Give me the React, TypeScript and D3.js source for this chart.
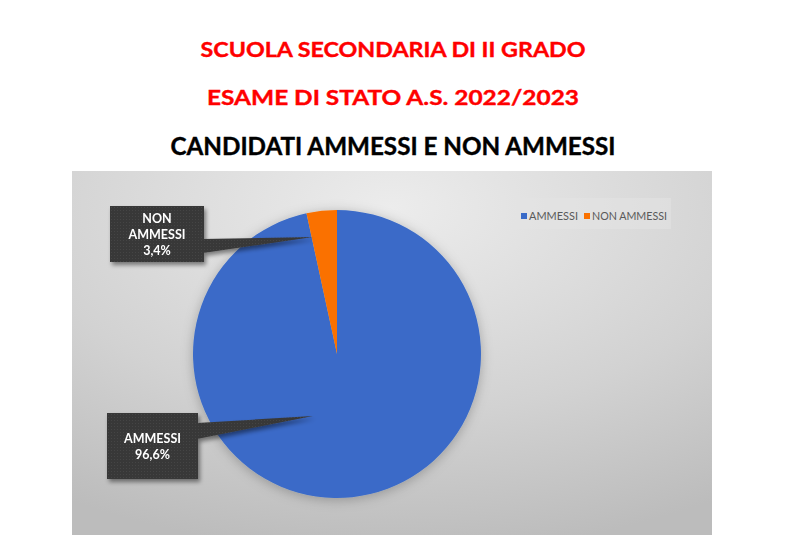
import React from "react";
import * as d3 from "d3";

const categories = ["AMMESSI", "NON AMMESSI"];
const values = [96.6, 3.4];
const valueLabels = ["96,6%", "3,4%"];
const colors = ["#3a6bc8", "#fa7100"];
const titleLines = ["SCUOLA SECONDARIA DI II GRADO", "ESAME DI STATO A.S. 2022/2023", "CANDIDATI AMMESSI E NON AMMESSI"];

const W = 786;
const H = 550;

export default function App() {
  const cx = 337;
  const cy = 354;
  const r = 144;
  const pie = d3.pie<number>().sort(null).value((d) => d)(values);
  const arc = d3.arc<d3.PieArcDatum<number>>().innerRadius(0).outerRadius(r);

  // callout layouts (box rect, tip relative to pie centre)
  const callouts = [
    { box: [107, 413, 91, 66], tip: [-24, 62], attach: [423, 439], lines: [categories[0], valueLabels[0]], textY: 443 },
    { box: [110, 206, 94, 56], tip: [-24, -117], attach: [239, 253], lines: ["NON", "AMMESSI", valueLabels[1]], textY: 223 },
  ];

  const legendX = 521;
  const legendY = 216;

  return (
    <svg width={W} height={H} style={{ position: "absolute", left: 0, top: 0 }}>
      <defs>
        <radialGradient id="bg" cx="0.5" cy="0.1" r="0.95" fx="0.5" fy="0.1">
          <stop offset="0" stopColor="#ececec" />
          <stop offset="0.6" stopColor="#d2d2d2" />
          <stop offset="1" stopColor="#bcbcbc" />
        </radialGradient>
        <filter id="pieShadow" x="-20%" y="-20%" width="140%" height="140%">
          <feDropShadow dx="0" dy="2" stdDeviation="6" floodColor="#000" floodOpacity="0.25" />
        </filter>
        <filter id="boxShadow" x="-20%" y="-20%" width="150%" height="150%">
          <feDropShadow dx="2" dy="3" stdDeviation="2" floodColor="#000" floodOpacity="0.45" />
        </filter>
        <pattern id="tex" width="3" height="3" patternUnits="userSpaceOnUse">
          <rect width="3" height="3" fill="#393939" />
          <rect width="1" height="1" fill="#444444" />
        </pattern>
      </defs>
      <rect x={0} y={0} width={W} height={H} fill="#ffffff" />
      {titleLines.map((t, i) => (
        <text
          key={i}
          x={W / 2}
          y={[57, 105, 155][i]}
          textAnchor="middle"
          fontFamily="Lato, 'Open Sans', sans-serif"
          fontWeight="bold"
          fontSize={i === 2 ? 24 : 21.5}
          fill={i === 2 ? "#000000" : "#ff0000"}
          stroke={i === 2 ? "#000000" : "#ff0000"}
          strokeWidth={0.4}
          textLength={[385, 372, 445][i]}
          lengthAdjust="spacingAndGlyphs"
        >
          {t}
        </text>
      ))}
      <rect x={72} y={171} width={640} height={364} fill="url(#bg)" />
      <g transform={`translate(${cx},${cy})`} filter="url(#pieShadow)">
        {pie.map((p, i) => (
          <path key={i} d={arc(p) || ""} fill={colors[i]} />
        ))}
      </g>
      {callouts.map((c, i) => {
        const [bx, by, bw, bh] = c.box;
        const tx = cx + c.tip[0];
        const ty = cy + c.tip[1];
        const right = bx + bw;
        return (
          <g key={i} filter="url(#boxShadow)">
            <path
              d={`M${right - 1},${c.attach[0]} L${tx},${ty} L${right - 1},${c.attach[1]} Z`}
              fill="url(#tex)"
            />
            <rect x={bx} y={by} width={bw} height={bh} fill="url(#tex)" />
            {c.lines.map((l, j) => (
              <text
                key={j}
                x={bx + bw / 2}
                y={c.textY + j * 16}
                textAnchor="middle"
                fontFamily="Lato, 'Open Sans', sans-serif"
                fontWeight="bold"
                fontSize={12.5}
                fill="#ffffff"
              >
                {l}
              </text>
            ))}
          </g>
        );
      })}
      <rect x={505} y={198} width={166} height={31} fill="#e4e4e4" opacity={0.55} />
      {categories.map((c, i) => {
        const x = legendX + (i === 0 ? 0 : 63);
        return (
          <g key={i}>
            <rect x={x} y={legendY - 3} width={6} height={6} fill={colors[i]} />
            <text
              x={x + 8}
              y={legendY + 4}
              fontFamily="Lato, 'Open Sans', sans-serif"
              fontSize={11}
              fill="#595959"
              textLength={i === 0 ? 49 : 75}
              lengthAdjust="spacingAndGlyphs"
            >
              {c}
            </text>
          </g>
        );
      })}
    </svg>
  );
}
